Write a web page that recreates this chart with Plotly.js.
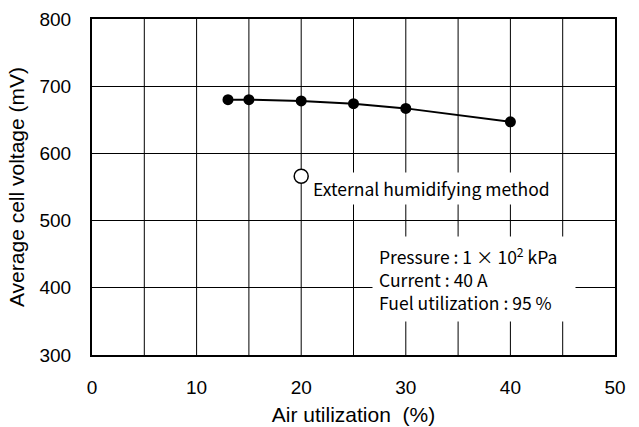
<!DOCTYPE html>
<html>
<head>
<meta charset="utf-8">
<script src="https://cdn.plot.ly/plotly-3.0.1.min.js"></script>
<style>
  html, body { margin: 0; padding: 0; background: #fff; }
  #chart { width: 639px; height: 427px; }
</style>
</head>
<body>
<div id="chart"></div>
<script>
// Cell voltage vs. air utilization
const airUtil = [13, 15, 20, 25, 30, 40];
const cellVoltage = [680, 680, 678, 674, 667, 647];

// External humidifying method (single point)
const extAirUtil = [20];
const extVoltage = [566];

const xTicks = [0, 10, 20, 30, 40, 50];
const yTicks = [300, 400, 500, 600, 700, 800];

const conditions = [
  'Pressure : 1 \u00d7 10<sup>2</sup> kPa',
  'Current : 40 A',
  'Fuel utilization : 95 %'
];

const sansFamily = 'Liberation Sans, Arial, sans-serif';
const labelFont = { family: 'Noto Sans CJK JP, sans-serif', size: 17.5, color: '#000' };
const tickFont = { family: sansFamily, size: 19, color: '#000' };
const titleFont = { family: sansFamily, size: 21, color: '#000' };

const traces = [
  {
    x: airUtil, y: cellVoltage,
    mode: 'lines+markers', type: 'scatter',
    line: { color: '#000', width: 2 },
    marker: { color: '#000', size: 11 },
    cliponaxis: false, hoverinfo: 'skip'
  },
  {
    x: extAirUtil, y: extVoltage,
    mode: 'markers', type: 'scatter',
    marker: { color: '#fff', size: 14, line: { color: '#000', width: 1.5 } },
    cliponaxis: false, hoverinfo: 'skip'
  }
];

const layout = {
  width: 639, height: 427,
  margin: { l: 92, r: 24, t: 19, b: 72 },
  paper_bgcolor: '#fff', plot_bgcolor: '#fff',
  showlegend: false,
  xaxis: {
    range: [0, 50],
    tickvals: xTicks, ticktext: xTicks.map(String),
    showgrid: false,
    zeroline: false,
    showline: true, mirror: true, linecolor: '#000', linewidth: 2,
    ticks: '', ticklabelstandoff: 14,
    tickfont: tickFont,
    title: { text: 'Air utilization  (%)', font: titleFont, standoff: 11 }
  },
  yaxis: {
    range: [300, 800],
    tickvals: yTicks, ticktext: yTicks.map(String),
    showgrid: true, gridcolor: '#000', gridwidth: 1,
    zeroline: false,
    showline: true, mirror: true, linecolor: '#000', linewidth: 2,
    ticks: '', ticklabelstandoff: 15,
    tickfont: tickFont,
    title: { text: 'Average cell voltage (mV)', font: titleFont, standoff: 9 }
  },
  // vertical grid every 5 %, labels only every 10 %
  shapes: [5, 10, 15, 20, 25, 30, 35, 40, 45].map(v => ({
    type: 'line', xref: 'x', yref: 'paper', x0: v, x1: v, y0: 0, y1: 1,
    line: { color: '#000', width: 1 }, layer: 'below'
  })),
  annotations: [
    {
      xref: 'x', yref: 'y', x: 20.75, y: 548, xanchor: 'left', yanchor: 'middle',
      text: 'External humidifying method', showarrow: false,
      font: labelFont, bgcolor: '#fff', borderpad: 3
    },
    {
      xref: 'x', yref: 'y', x: 26.8, y: 413, xanchor: 'left', yanchor: 'middle',
      text: conditions.join('<br>'), align: 'left', showarrow: false,
      width: 190, font: labelFont, bgcolor: '#fff', borderpad: 6
    }
  ]
};

Plotly.newPlot('chart', traces, layout, { staticPlot: true, displayModeBar: false });
</script>
</body>
</html>
